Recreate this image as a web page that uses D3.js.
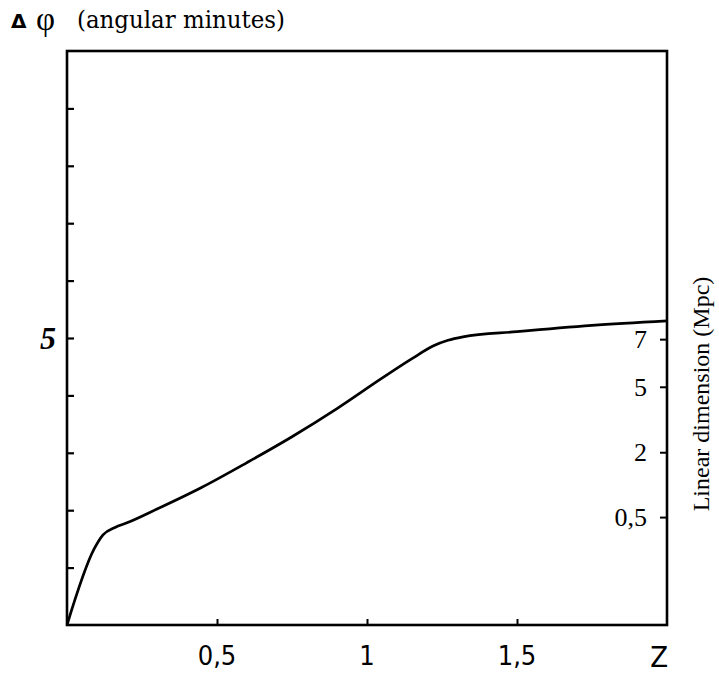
<!DOCTYPE html>
<html lang="en">
<head>
    <meta charset="UTF-8">
    <script src="https://d3js.org/d3.v7.min.js"></script>
    <title>Angular size vs redshift</title>
    <style>
      body { margin: 0; background: #fff; }
      svg { display: block; }
    </style>
</head>
<body>
    <svg width="719" height="675" id="chart"></svg>
    <script type="text/javascript">
      // curve: redshift z vs angular size (arc minutes)
      var zValues   = [0, 0.09, 0.12, 0.16, 0.2, 0.3, 0.45, 0.6, 0.75, 0.9, 1.05, 1.15, 1.22, 1.27, 1.32, 1.5, 1.75, 2.0];
      var phiValues = [0, 1.32, 1.57, 1.70, 1.78, 2.02, 2.40, 2.83, 3.28, 3.77, 4.30, 4.64, 4.86, 4.96, 5.02, 5.11, 5.22, 5.30];

      var zTicks = [0.5, 1, 1.5];
      var zTickLabels = ["0,5", "1", "1,5"];
      var phiTicks = [1, 2, 3, 4, 5, 6, 7, 8, 9];
      var phiLabelled = [5];

      // right axis: linear dimension (Mpc) and where each sits on the angular scale
      var mpcTicks = [0.5, 2, 5, 7];
      var mpcAtPhi = [1.88, 3.01, 4.15, 4.98];

      var svg = d3.select("#chart");

      var x = d3.scaleLinear().domain([0, 2]).range([67, 667]);
      var y = d3.scaleLinear().domain([0, 10]).range([625, 51]);
      var yMpc = d3.scaleLinear().domain(mpcTicks).range(mpcAtPhi.map(y));

      // frame
      svg.append("rect")
        .attr("x", x(0)).attr("y", y(10))
        .attr("width", x(2) - x(0)).attr("height", y(0) - y(10))
        .attr("fill", "none").attr("stroke", "#000").attr("stroke-width", 2.6);

      // left ticks (inward)
      var left = svg.append("g")
        .attr("transform", "translate(" + x(0) + ",0)")
        .call(d3.axisRight(y).tickValues(phiTicks).tickSize(7).tickFormat(""));
      left.select(".domain").remove();
      left.selectAll("line").attr("stroke-width", 2.2);

      svg.selectAll(".phi-label")
        .data(phiLabelled)
        .enter().append("text")
        .attr("class", "phi-label")
        .attr("x", 48)
        .attr("y", function(d) { return y(d); })
        .attr("dy", "0.35em")
        .attr("text-anchor", "middle")
        .attr("font-family", "Liberation Serif, serif")
        .attr("font-weight", "bold")
        .attr("font-style", "italic")
        .attr("font-size", 32)
        .text(function(d) { return d; });

      // bottom ticks (inward)
      var bottom = svg.append("g")
        .attr("transform", "translate(0," + y(0) + ")")
        .call(d3.axisTop(x).tickValues(zTicks).tickSize(6).tickFormat(""));
      bottom.select(".domain").remove();
      bottom.selectAll("line").attr("stroke-width", 2);

      svg.selectAll(".z-label")
        .data(zTicks)
        .enter().append("text")
        .attr("class", "z-label")
        .attr("x", function(d) { return x(d); })
        .attr("y", 665)
        .attr("text-anchor", "middle")
        .attr("font-family", "DejaVu Sans Condensed, Liberation Sans Narrow, DejaVu Sans, sans-serif")
        .attr("font-stretch", "condensed")
        .attr("font-size", 27)
        .text(function(d, i) { return zTickLabels[i]; });

      svg.append("text")
        .attr("x", x(2) + 1)
        .attr("y", 667)
        .attr("text-anchor", "end")
        .attr("font-family", "DejaVu Sans Condensed, Liberation Sans Narrow, DejaVu Sans, sans-serif")
        .attr("font-stretch", "condensed")
        .attr("font-size", 29)
        .text("Z");

      // right axis, ticks pointing inward, labels inside the frame
      var right = svg.append("g")
        .attr("transform", "translate(" + x(2) + ",0)")
        .call(d3.axisLeft(yMpc).tickValues(mpcTicks).tickSize(7).tickPadding(13)
          .tickFormat(function(d) { return String(d).replace(".", ","); }));
      right.select(".domain").remove();
      right.selectAll("line").attr("stroke-width", 2);
      right.selectAll("text")
        .attr("font-family", "Liberation Serif, serif")
        .attr("font-size", 26)
        .attr("fill", "#000");

      // curve
      var line = d3.line()
        .x(function(d, i) { return x(zValues[i]); })
        .y(function(d) { return y(d); })
        .curve(d3.curveMonotoneX);

      svg.append("path")
        .datum(phiValues)
        .attr("d", line)
        .attr("fill", "none")
        .attr("stroke", "#000")
        .attr("stroke-width", 2.7)
        .attr("stroke-linejoin", "round");

      // titles
      var title = svg.append("text");
      title.append("tspan")
        .attr("x", 11).attr("y", 28)
        .attr("font-family", "DejaVu Sans, sans-serif")
        .attr("font-weight", "bold")
        .attr("font-size", 20)
        .text("Δ");
      title.append("tspan")
        .attr("x", 36).attr("y", 30)
        .attr("font-family", "Liberation Serif, serif")
        .attr("font-size", 33)
        .text("φ");
      title.append("tspan")
        .attr("x", 77).attr("y", 28)
        .attr("font-family", "DejaVu Serif, serif")
        .attr("font-size", 24)
        .attr("textLength", 208)
        .attr("lengthAdjust", "spacingAndGlyphs")
        .text("(angular minutes)");

      svg.append("text")
        .attr("transform", "translate(709,394) rotate(-90)")
        .attr("text-anchor", "middle")
        .attr("font-family", "Liberation Serif, serif")
        .attr("font-size", 24)
        .text("Linear dimension (Mpc)");
    </script>
</body>
</html>
